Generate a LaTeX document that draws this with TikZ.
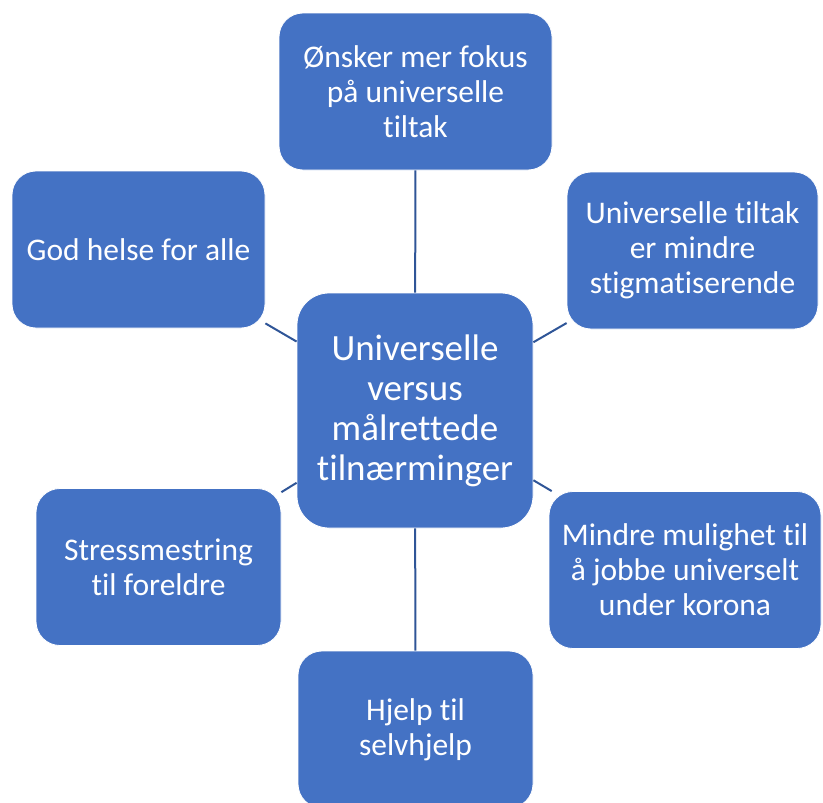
\documentclass[tikz,border=0pt]{standalone}
\usepackage{fontspec}
\setmainfont{Carlito}[Ligatures=NoCommon]
\definecolor{boxblue}{HTML}{4472C4}
\definecolor{linkblue}{HTML}{2F5597}
\begin{document}
\begin{tikzpicture}[x=1pt, y=-1pt,
    box/.style={draw=white, line width=0.8pt, fill=boxblue, text=white, rounded corners=24pt,
        minimum height=157pt, align=center, inner sep=0pt,
        font=\fontsize{31.5}{35}\selectfont},
    hub/.style={box, rounded corners=32pt, minimum width=236pt, minimum height=235pt,
        font=\fontsize{37}{40}\selectfont},
    link/.style={linkblue, line width=2pt}]
    \useasboundingbox (0,0) rectangle (823,803);
    \clip (0,0) rectangle (823,803);

    \node[hub] (hub) at (415,410.5) {Universelle\\versus\\målrettede\\tilnærminger};

    \node[box, minimum width=273pt] (top) at (415.5,91.5) {Ønsker mer fokus\\på universelle\\tiltak};
    \node[box, minimum width=251pt] (tr) at (692.5,250.5) {Universelle tiltak\\er mindre\\stigmatiserende};
    \node[box, minimum width=253pt] (tl) at (138.5,249.5) {God helse for alle};
    \node[box, minimum width=272pt] (br) at (685,570) {Mindre mulighet til\\å jobbe universelt\\under korona};
    \node[box, minimum width=245pt] (bl) at (158.5,567) {Stressmestring\\til foreldre};
    \node[box, minimum width=235pt] (bot) at (415.5,729.5) {Hjelp til\\selvhjelp};

    \foreach \n in {top,tr,tl,br,bl,bot} \draw[link] (hub) -- (\n);
\end{tikzpicture}
\end{document}
